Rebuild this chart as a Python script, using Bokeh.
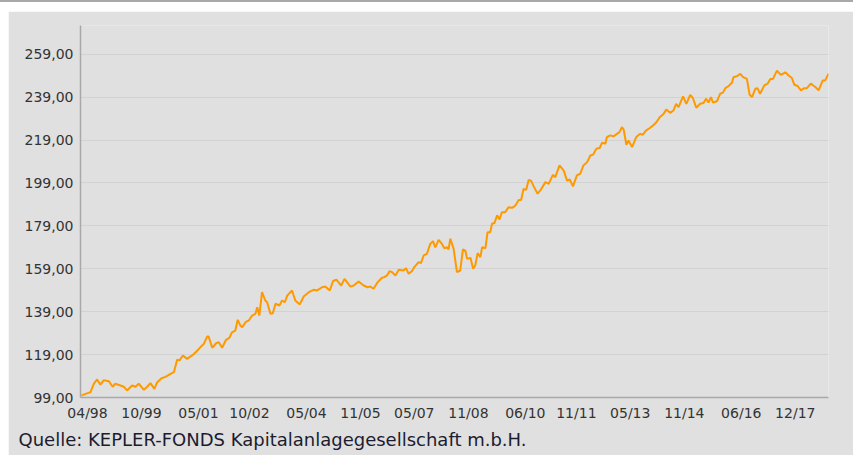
import pandas as pd
from bokeh.plotting import figure
from bokeh.models import FixedTicker, DatetimeTickFormatter, Range1d, Title, Div
from bokeh.layouts import column
from bokeh.embed import file_html
from bokeh.resources import INLINE

# time position in months after 1 April 1998, and fund price
months = [
    -2.0, 1.0, 2.1, 3.2, 4.3, 5.4, 7.1, 8.4, 9.3, 11.0, 12.1, 13.2, 14.9, 16.0, 17.1,
    18.8, 19.9, 21.0, 22.3, 23.2, 24.7, 26.0, 27.7, 28.8, 29.9, 30.7, 31.8, 33.2, 34.9,
    36.0, 37.7, 38.8, 39.9, 40.4, 41.6, 42.9, 43.8, 44.9, 46.2, 47.3, 48.2, 49.3, 50.1,
    51.0, 51.6, 52.7, 53.8, 54.9, 56.0, 56.6, 57.3, 58.2, 59.3, 59.9, 61.0, 61.8, 62.7,
    64.0, 64.9, 65.8, 66.6, 68.2, 69.3, 70.8, 72.1, 73.8, 75.4, 76.6, 78.2, 79.3, 80.8,
    81.9, 83.0, 84.6, 85.7, 87.7, 88.8, 90.4, 92.1, 93.4, 94.3, 95.4, 96.8, 98.2, 99.0,
    99.9, 100.7, 101.6, 102.7, 103.8, 105.4, 106.2, 107.1, 108.2, 109.0, 110.4, 111.2,
    112.1, 113.2, 114.3, 115.2, 116.0, 117.1, 118.2, 119.0, 119.9, 120.4, 121.0, 122.1,
    123.2, 124.3, 125.2, 126.0, 126.6, 127.7, 128.6, 129.3, 130.1, 131.0, 131.6, 132.7,
    133.4, 134.3, 134.9, 135.7, 136.6, 137.4, 138.2, 139.3, 140.4, 141.6, 142.7, 143.8,
    144.6, 145.4, 146.3, 147.1, 147.9, 148.8, 150.1, 151.0, 152.7, 153.8, 155.2, 156.0,
    157.4, 158.8, 159.9, 160.8, 161.9, 163.2, 164.3, 165.4, 166.6, 167.7, 168.6, 169.7,
    170.8, 171.6, 172.7, 173.2, 174.3, 175.4, 176.6, 177.4, 178.2, 178.8, 179.7, 180.4,
    181.6, 183.0, 184.3, 185.2, 186.3, 187.4, 188.6, 189.7, 190.8, 192.1, 193.0, 194.3,
    195.4, 196.3, 197.1, 198.6, 199.7, 201.0, 201.9, 203.0, 204.3, 205.4, 206.3, 207.1,
    207.9, 208.6, 209.9, 211.0, 211.9, 212.7, 213.8, 214.9, 215.4, 216.6, 217.7, 218.6,
    219.9, 220.8, 221.6, 222.7, 223.4, 224.3, 225.7, 226.8, 227.7, 228.6, 229.9, 231.2,
    232.7, 233.8, 234.9, 235.7, 236.8, 237.9, 239.0, 239.9, 241.2, 242.7, 243.8, 245.2,
    246.0, 247.1,
]
price = [
    100.0, 101.5, 105.4, 107.4, 105.0, 107.0, 106.6, 104.0, 105.4, 104.6, 104.0, 102.3, 104.6, 104.0, 105.4,
    102.6, 104.0, 105.7, 103.0, 106.0, 108.0, 108.6, 110.0, 110.8, 116.6, 116.3, 118.6, 117.0, 118.6,
    120.0, 122.5, 124.0, 127.4, 127.4, 122.2, 124.3, 124.8, 122.2, 125.9, 126.8, 129.4, 130.2, 135.2,
    132.5, 131.8, 134.1, 134.9, 137.2, 138.0, 141.1, 137.2, 148.1, 144.2, 143.4, 138.0, 138.3, 142.7,
    141.9, 144.2, 143.4, 146.5, 148.9, 144.2, 142.4, 146.1, 148.1, 149.2, 148.9, 150.4, 150.7, 148.9,
    153.3, 153.9, 151.2, 154.3, 150.7, 151.2, 153.1, 151.2, 150.4, 150.7, 149.7, 152.8, 154.8, 155.1,
    155.9, 157.9, 157.4, 155.9, 158.5, 158.2, 159.3, 156.7, 157.9, 159.8, 162.1, 161.6,
    165.2, 166.0, 170.6, 171.9, 169.0, 172.5, 170.6, 168.6, 169.0, 168.0, 173.0, 168.3,
    157.4, 158.2, 168.0, 167.5, 163.6, 164.1, 159.0, 160.5, 166.3, 164.4, 169.0, 168.6,
    176.0, 176.0, 180.0, 180.3, 183.9, 182.0, 185.4, 185.4, 187.7, 187.4, 188.5, 191.1,
    191.1, 196.2, 195.8, 200.4, 200.1, 197.4, 194.0, 195.5, 199.4, 198.6, 202.8, 201.7,
    207.2, 204.8, 200.1, 200.6, 197.4, 202.5, 203.3, 207.2, 208.7, 211.8, 212.2, 215.0,
    215.3, 217.8, 217.3, 220.4, 221.2, 220.7, 221.9, 222.7, 225.0, 223.9, 216.8, 218.8,
    215.7, 220.4, 221.9, 221.5, 223.5, 224.5, 225.8, 227.3, 229.6, 231.2, 233.2, 231.7,
    232.8, 235.9, 234.3, 239.4, 235.9, 240.1, 238.5, 234.1, 235.9, 236.3, 238.3, 236.5,
    239.0, 236.5, 237.1, 240.6, 241.1, 243.2, 244.2, 245.7, 248.3, 248.8, 249.9, 248.3,
    247.5, 240.1, 239.0, 242.9, 243.2, 240.6, 244.5, 245.3, 247.5, 247.5, 251.4, 249.4,
    250.6, 249.1, 247.9, 244.8, 244.2, 242.2, 243.2, 243.2, 245.3, 243.7, 242.2, 246.8,
    246.8, 249.9,
]

x_tick_dates = ["1998-04-01", "1999-10-01", "2001-05-01", "2002-10-01", "2004-05-01",
                "2005-11-01", "2007-05-01", "2008-11-01", "2010-06-01", "2011-11-01",
                "2013-05-01", "2014-11-01", "2016-06-01", "2017-12-01"]
y_ticks = [99, 119, 139, 159, 179, 199, 219, 239, 259]
y_tick_labels = ["99,00", "119,00", "139,00", "159,00", "179,00", "199,00",
                 "219,00", "239,00", "259,00"]
source_text = "Quelle: KEPLER-FONDS Kapitalanlagegesellschaft m.b.H."

base = pd.Timestamp("1998-04-01")
def to_dt(m):
    return base + pd.to_timedelta(m * 30.4375, unit="D")

dates = [to_dt(m) for m in months]
def ms(ts):
    return ts.value / 1e6

FONT = "DejaVu Sans"
BG = "#e0e0e0"

p = figure(x_axis_type="datetime", output_backend="svg", toolbar_location=None,
           frame_width=748, frame_height=372,
           min_border_left=72, min_border_right=25, min_border_top=14, min_border_bottom=58,
           background_fill_color=BG, border_fill_color=BG, outline_line_color=None,
           margin=(9, 0, 0, 8))

p.x_range = Range1d(ms(to_dt(-2.33)), ms(to_dt(247.1)))
p.y_range = Range1d(99, 272.4)

p.line(dates, price, line_color="#ff9900", line_width=2)

p.xaxis.ticker = FixedTicker(ticks=[ms(pd.Timestamp(d)) for d in x_tick_dates])
fmt = "%m/%y"
p.xaxis.formatter = DatetimeTickFormatter(microseconds=fmt, milliseconds=fmt, seconds=fmt,
                                          minsec=fmt, minutes=fmt, hourmin=fmt, hours=fmt,
                                          days=fmt, months=fmt, years=fmt)
p.yaxis.ticker = FixedTicker(ticks=y_ticks)
p.yaxis.major_label_overrides = dict(zip(y_ticks, y_tick_labels))

for ax in (p.xaxis, p.yaxis):
    ax.axis_line_color = "#a8a8a8"
    ax.axis_line_width = 1.5
    ax.major_tick_line_color = None
    ax.minor_tick_line_color = None
    ax.major_tick_out = 0
    ax.major_tick_in = 0
    ax.major_label_standoff = 7
    ax.major_label_text_font = FONT
    ax.major_label_text_font_size = "14px"
    ax.major_label_text_color = "#333333"

p.xgrid.grid_line_color = None
p.ygrid.grid_line_color = "#d2d2d2"
p.ygrid.grid_line_width = 1

p.add_layout(Title(text=source_text, align="left", offset=-62, standoff=6,
                   text_font=FONT, text_font_size="18px", text_font_style="normal",
                   text_color="#1c1c30"), "below")

top_rule = Div(width=853, height=2, margin=(0, 0, 0, 0),
               styles={"background-color": "#a8a8a8"})

layout = column(top_rule, p, spacing=0, margin=(0, 0, 0, 0))

open("out.html", "w").write(file_html(layout, INLINE))
